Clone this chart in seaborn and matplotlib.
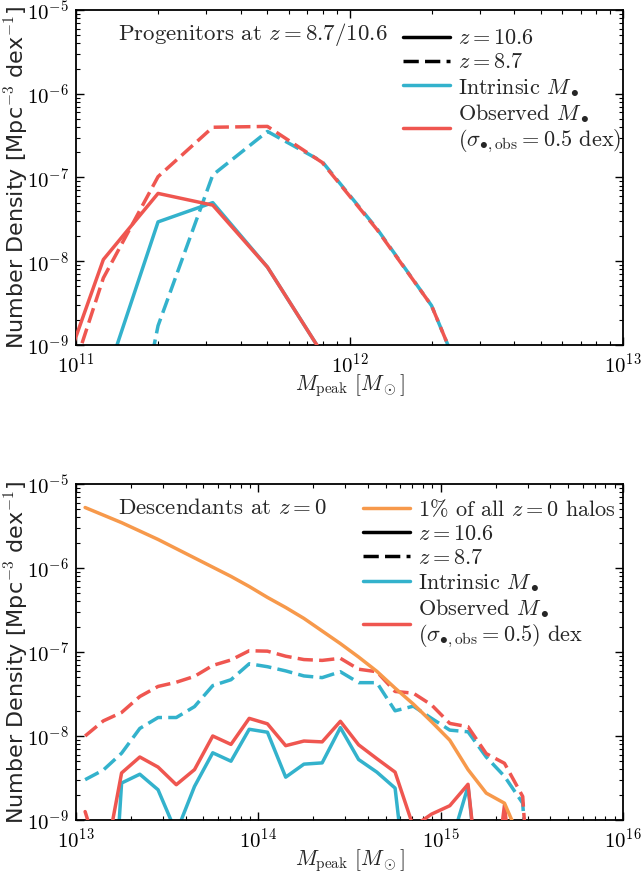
import numpy as np
import pandas as pd
import matplotlib
matplotlib.use("Agg")
import matplotlib.pyplot as plt
import seaborn as sns
from matplotlib.lines import Line2D

# ---------------- data (log10 values) ----------------
# Top panel: progenitors at z = 8.7 / 10.6
top_logm = [10.9, 11.1, 11.3, 11.5, 11.7, 11.9, 12.1, 12.3, 12.5, 12.7, 12.9]
top_intr_z106 = [-12.0, -9.49, -7.53, -7.30, -8.07, -9.10, -12.0, -12.0, -12.0, -12.0, -12.0]
top_obs_z106 = [-9.82, -7.98, -7.19, -7.33, -8.07, -9.10, -12.0, -12.0, -12.0, -12.0, -12.0]
top_intr_z87 = [-12.0, -12.0, -8.77, -6.97, -6.45, -6.81, -7.61, -8.53, -10.1, -12.0, -12.0]
top_obs_z87 = [-10.2, -8.20, -6.99, -6.40, -6.39, -6.82, -7.62, -8.53, -10.1, -12.0, -12.0]

# Bottom panel: descendants at z = 0
bot_logm = [13.05, 13.15, 13.25, 13.35, 13.45, 13.55, 13.65, 13.75, 13.85, 13.95,
            14.05, 14.15, 14.25, 14.35, 14.45, 14.55, 14.65, 14.75, 14.85, 14.95,
            15.05, 15.15, 15.25, 15.35, 15.45, 15.55, 15.65, 15.75, 15.85, 15.95]
bot_all_halos = [-5.28, -5.37, -5.46, -5.56, -5.66, -5.77, -5.88, -5.99, -6.10, -6.22,
                 -6.35, -6.47, -6.60, -6.75, -6.90, -7.06, -7.23, -7.43, -7.62, -7.83,
                 -8.05, -8.40, -8.68, -8.80, -9.30, -12.0, -12.0, -12.0, -12.0, -12.0]
bot_obs_z106 = [-8.90, -9.60, -8.44, -8.25, -8.37, -8.58, -8.40, -8.00, -8.10, -7.79,
                -7.855, -8.115, -8.06, -8.07, -7.825, -8.105, -8.27, -8.43, -9.08, -8.93,
                -8.83, -8.575, -10.6, -8.82, -11.0, -12.0, -12.0, -12.0, -12.0, -12.0]
bot_intr_z106 = [-12.0, -12.0, -8.56, -8.455, -8.64, -9.15, -8.60, -8.20, -8.30, -7.92,
                 -7.955, -8.49, -8.335, -8.32, -7.90, -8.28, -8.43, -8.62, -10.5, -11.0,
                 -9.33, -8.60, -10.6, -11.0, -12.0, -12.0, -12.0, -12.0, -12.0, -12.0]
bot_obs_z87 = [-8.00, -7.82, -7.72, -7.53, -7.41, -7.36, -7.29, -7.16, -7.095, -6.985,
               -6.99, -7.05, -7.09, -7.10, -7.075, -7.205, -7.235, -7.47, -7.49, -7.63,
               -7.85, -7.89, -8.21, -8.325, -8.72, -12.0, -12.0, -12.0, -12.0, -12.0]
bot_intr_z87 = [-8.52, -8.405, -8.205, -7.91, -7.78, -7.78, -7.65, -7.40, -7.33, -7.14,
                -7.175, -7.225, -7.285, -7.305, -7.235, -7.365, -7.365, -7.70, -7.645, -7.79,
                -7.93, -7.95, -8.25, -8.48, -8.80, -12.0, -12.0, -12.0, -12.0, -12.0]

# ---------------- style ----------------
sns.set_style("ticks")
plt.rcParams.update({
    "font.family": ["cmr10", "DejaVu Serif"],
    "mathtext.fontset": "cm",
    "axes.formatter.use_mathtext": True,
    "xtick.direction": "in", "ytick.direction": "in",
    "xtick.top": True, "ytick.right": True,
    "xtick.major.size": 6, "ytick.major.size": 6,
    "xtick.minor.size": 3, "ytick.minor.size": 3,
    "xtick.major.width": 1.0, "ytick.major.width": 1.0,
    "xtick.minor.width": 0.8, "ytick.minor.width": 0.8,
    "xtick.minor.visible": True, "ytick.minor.visible": True,
    "axes.linewidth": 1.3,
    "xtick.labelsize": 15, "ytick.labelsize": 15,
    "axes.edgecolor": "black",
    "xtick.color": "black", "ytick.color": "black",
})

BLUE = "#33b2cc"
RED = "#ef5650"
ORANGE = "#f7994b"
LW = 2.5
DASH = (0, (4.4, 1.8))

fig = plt.figure(figsize=(6.41, 8.73), dpi=100)
W = 547 / 641
ax1 = fig.add_axes([76 / 641, 1 - 345 / 873, W, 335 / 873])
ax2 = fig.add_axes([76 / 641, 1 - 820 / 873, W, 336 / 873])


def draw(ax, logm, logn, color, ls, z=2):
    df = pd.DataFrame({"M": np.power(10.0, logm), "n": np.power(10.0, logn)})
    sns.lineplot(data=df, x="M", y="n", ax=ax, color=color, linewidth=LW,
                 linestyle=ls, estimator=None, sort=False, legend=False, zorder=z)


# top panel
draw(ax1, top_logm, top_intr_z106, BLUE, "-")
draw(ax1, top_logm, top_intr_z87, BLUE, DASH)
draw(ax1, top_logm, top_obs_z106, RED, "-", 3)
draw(ax1, top_logm, top_obs_z87, RED, DASH, 3)

# bottom panel
draw(ax2, bot_logm, bot_intr_z106, BLUE, "-")
draw(ax2, bot_logm, bot_intr_z87, BLUE, DASH)
draw(ax2, bot_logm, bot_obs_z106, RED, "-", 3)
draw(ax2, bot_logm, bot_obs_z87, RED, DASH, 3)
draw(ax2, bot_logm, bot_all_halos, ORANGE, "-", 4)

for ax, xl in ((ax1, (1e11, 1e13)), (ax2, (1e13, 1e16))):
    ax.set_xscale("log")
    ax.set_yscale("log")
    ax.set_xlim(*xl)
    ax.set_ylim(1e-9, 1e-5)
    ax.set_xlabel(r"$M_{\rm peak}\ [M_\odot]$", fontsize=15.5, labelpad=-3)
    ax.set_ylabel(r"Number Density [Mpc$^{-3}$ dex$^{-1}$]", fontsize=16,
                  family="DejaVu Sans")
    ax.yaxis.set_label_coords(-0.082, 0.5)
    ax.tick_params(axis="x", which="major", pad=5)
    ax.tick_params(axis="y", which="major", pad=5)
    for s in ax.spines.values():
        s.set_visible(True)

ax1.text(0.077, 0.928, r"Progenitors at $z = 8.7/10.6$", transform=ax1.transAxes,
         fontsize=16.5, va="center", ha="left")
ax2.text(0.077, 0.930, r"Descendants at $z = 0$", transform=ax2.transAxes,
         fontsize=16.5, va="center", ha="left")

h_solid = Line2D([], [], color="black", lw=LW, ls="-")
h_dash = Line2D([], [], color="black", lw=LW, ls=DASH)
h_blue = Line2D([], [], color=BLUE, lw=LW)
h_red = Line2D([], [], color=RED, lw=LW)
h_orange = Line2D([], [], color=ORANGE, lw=LW)

leg_kw = dict(loc="upper left", frameon=False, fontsize=16, handlelength=2.1,
              handletextpad=0.36, labelspacing=0.2, borderpad=0, borderaxespad=0)
leg1 = ax1.legend([h_solid, h_dash, h_blue, h_red],
                  [r"$z = 10.6$", r"$z = 8.7$", r"Intrinsic $M_\bullet$",
                   "Observed $M_\\bullet$\n" + r"$(\sigma_{\bullet,\rm obs} = 0.5$ dex)"],
                  bbox_to_anchor=(0.598, 0.944), **leg_kw)
leg2 = ax2.legend([h_orange, h_solid, h_dash, h_blue, h_red],
                  [r"1% of all $z = 0$ halos", r"$z = 10.6$", r"$z = 8.7$",
                   r"Intrinsic $M_\bullet$",
                   "Observed $M_\\bullet$\n" + r"$(\sigma_{\bullet,\rm obs} = 0.5)$ dex"],
                  bbox_to_anchor=(0.525, 0.958), **leg_kw)

fig.savefig("out.png", dpi=100)
